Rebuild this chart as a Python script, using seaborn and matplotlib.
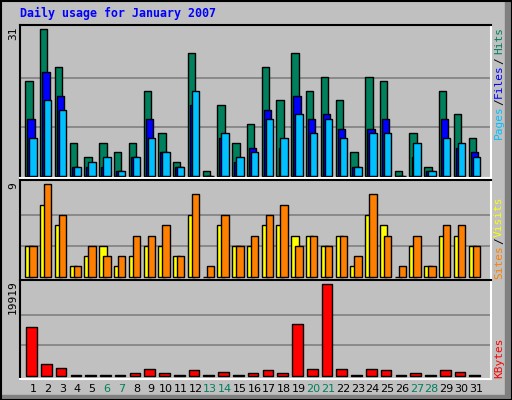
import matplotlib
matplotlib.use("Agg")
import matplotlib.pyplot as plt
import seaborn as sns
import pandas as pd
from matplotlib.patches import Rectangle

days = list(range(1, 32))
weekends = [6, 7, 13, 14, 20, 21, 27, 28]
hits = [20, 31, 23, 7, 4, 7, 5, 7, 18, 9, 3, 26, 1, 15, 7, 11, 23, 16, 26, 18, 21, 16, 5, 21, 20, 1, 9, 2, 18, 13, 8]
files = [12, 22, 17, 2, 2, 2, 1, 4, 12, 5, 2, 15, 0, 8, 3, 6, 14, 6, 17, 12, 13, 10, 2, 10, 12, 0, 4, 1, 12, 6, 5]
pages = [8, 16, 14, 2, 3, 4, 1, 4, 8, 5, 2, 18, 0, 9, 4, 5, 12, 8, 13, 9, 12, 8, 2, 9, 9, 0, 7, 1, 8, 7, 4]
sites = [3, 7, 5, 1, 2, 3, 1, 2, 3, 3, 2, 6, 0, 5, 3, 3, 5, 5, 4, 4, 3, 4, 1, 6, 5, 0, 3, 1, 4, 4, 3]
visits = [3, 9, 6, 1, 3, 2, 2, 4, 4, 5, 2, 8, 1, 6, 3, 4, 6, 7, 3, 4, 3, 4, 2, 8, 4, 1, 4, 1, 5, 5, 3]
kbytes = [10541, 2470, 1600, 200, 200, 200, 200, 500, 1380, 500, 200, 1160, 200, 730, 200, 580,
          1160, 500, 11195, 1380, 19919, 1380, 200, 1380, 1160, 200, 500, 200, 1160, 730, 200]

BG = "#c0c0c0"
sns.set_style("white")
W, H = 512, 400
fig = plt.figure(figsize=(5.12, 4.0), dpi=100, facecolor=BG)

def px_axes(x0, y0, x1, y1):
    return fig.add_axes([x0 / W, 1 - y1 / H, (x1 - x0) / W, (y1 - y0) / H])

def bars(ax, vals, offset, width, color):
    df = pd.DataFrame({"x": [d + offset for d in days], "y": vals})
    sns.barplot(data=df, x="x", y="y", native_scale=True, width=width, color=color,
                saturation=1, edgecolor="black", linewidth=1.0, ax=ax)

def style(ax, ylim, grid):
    ax.set_facecolor(BG)
    ax.set_xlim(0.12, 32.0)
    ax.set_ylim(*ylim)
    for g in grid:
        ax.axhline(g, color="#808080", lw=1.2, zorder=0)
    ax.set_xticks([]); ax.set_yticks([])
    ax.set_xlabel(""); ax.set_ylabel("")
    ax.spines["left"].set_color("black"); ax.spines["top"].set_color("black")
    ax.spines["right"].set_color("white"); ax.spines["bottom"].set_color("white")
    for s in ax.spines.values():
        s.set_linewidth(1.5)

ax1 = px_axes(20, 25, 491, 178)
bars(ax1, hits, -0.27, 0.5, "#00805c")
bars(ax1, files, -0.13, 0.5, "#0000ff")
bars(ax1, pages, 0.0, 0.5, "#00c0ff")
style(ax1, (-0.42, 31.9), [31 / 3, 62 / 3])

ax2 = px_axes(20, 180, 491, 280)
bars(ax2, sites, -0.27, 0.5, "#ffff00")
bars(ax2, visits, 0.0, 0.5, "#ff8000")
style(ax2, (-0.32, 9.39), [3, 6])

ax3 = px_axes(20, 280, 491, 379)
bars(ax3, kbytes, -0.1, 0.72, "#ff0000")
style(ax3, (-719, 20856), [19919 / 3, 19919 * 2 / 3])

mono = "DejaVu Sans Mono"
fig.text(20 / W, 1 - 13 / H, "Daily usage for January 2007", color="#0000ff", family=mono,
         weight="bold", fontsize=8.4, va="center", ha="left")

def ylab(x, y, s):
    fig.text(x / W, 1 - y / H, s, rotation=90, family=mono, fontsize=8,
             ha="center", va="center", color="black")

ylab(13, 33, "31")
ylab(13, 186, "9")
ylab(13, 297, "19919")

def rlabel(parts):
    for y, s, c in parts:
        fig.text(499 / W, 1 - y / H, s, rotation=90, family=mono, fontsize=8,
                 ha="center", va="center", color=c)

rlabel([(122, "Pages", "#00c0ff"), (102, "/", "black"), (81, "Files", "#0000ff"),
        (61, "/", "black"), (40, "Hits", "#00805c")])
rlabel([(262, "Sites", "#ff8000"), (241, "/", "black"), (217, "Visits", "#ffff00")])
rlabel([(358, "KBytes", "#ff0000")])

for d in days:
    x = 33 + (d - 1) * (476 - 33) / 30
    c = "#00805c" if d in weekends else "black"
    fig.text(x / W, 1 - 389 / H, str(d), color=c, fontsize=8, ha="center", va="center")

# outer frame
fig.patches.append(Rectangle((505 / W, 0), 7 / W, 1, transform=fig.transFigure, color="#808080", zorder=-1))
fig.patches.append(Rectangle((0, 0), 1, 5 / H, transform=fig.transFigure, color="#808080", zorder=-1))
fig.patches.append(Rectangle((0.5 / W, 0.5 / H), 1 - 1 / W, 1 - 1 / H, transform=fig.transFigure,
                             fill=False, edgecolor="black", lw=1.5))

fig.savefig("out.png", dpi=100, facecolor=BG)
